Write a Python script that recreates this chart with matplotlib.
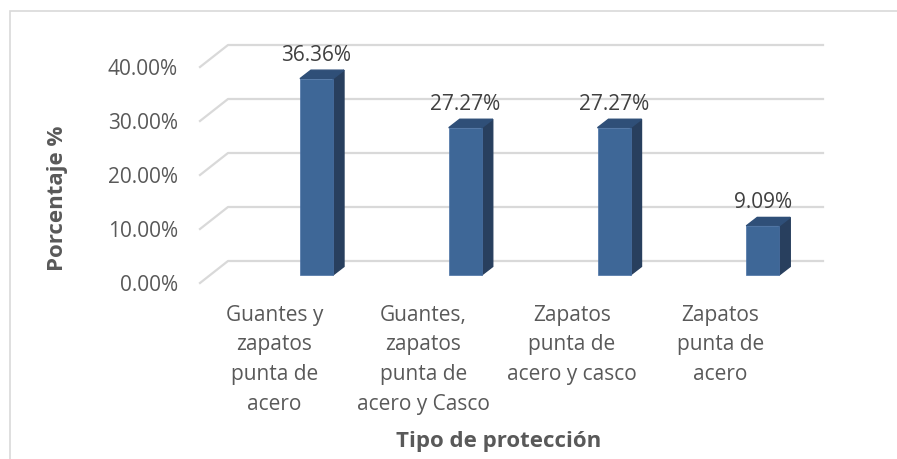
import matplotlib
matplotlib.use("Agg")
import matplotlib.pyplot as plt
from matplotlib.patches import Polygon, Rectangle

# data
categorias = ["Guantes y\nzapatos\npunta de\nacero",
              "Guantes,\nzapatos\npunta de\nacero y Casco",
              "Zapatos\npunta de\nacero y casco",
              "Zapatos\npunta de\nacero"]
porcentajes = [36.36, 27.27, 27.27, 9.09]
ticks_y = [0, 10, 20, 30, 40]
ticks_y_labels = ["0.00%", "10.00%", "20.00%", "30.00%", "40.00%"]

W, H = 897, 459
plt.rcParams['font.family'] = ['Open Sans', 'DejaVu Sans']
FS = 15

fig = plt.figure(figsize=(W / 100, H / 100), dpi=100)
fig.patch.set_facecolor("white")

# front plane of the 3d floor, in pixels
x0, x1 = 200, 795
y_base = 283
px_per_pct = 5.4
ax = fig.add_axes([x0 / W, 1 - y_base / H, (x1 - x0) / W, 40 * px_per_pct / H])
ax.set_xlim(0, 4)
ax.set_ylim(0, 40)
ax.patch.set_alpha(0)
for s in ax.spines.values():
    s.set_visible(False)

px_x = 4 / (x1 - x0)      # x data units per pixel
px_y = 1 / px_per_pct     # y data units per pixel

# depth of the back wall
DX, DY = 28 * px_x, 22 * px_y
grid_c = "#D9D9D9"
for t in ticks_y:
    ax.plot([0, DX, 4 + DX], [t, t + DY, t + DY], color=grid_c, lw=1.6,
            clip_on=False, zorder=1)

# bars (front face + side + top)
bar_off = 100 * px_x       # front face left edge from category start
bar_w = 33 * px_x
lift = 8 * px_y
ddx, ddy = 11 * px_x, 8.5 * px_y
front_c, side_c, top_c = "#3E6797", "#283F5E", "#2F4F78"

xs = [i + bar_off for i in range(len(porcentajes))]
ax.bar(xs, porcentajes, width=bar_w, bottom=lift, align="edge",
       color=front_c, edgecolor="#4A72A6", lw=0.5, zorder=3, clip_on=False)
for x, v in zip(xs, porcentajes):
    top = v + lift
    side = Polygon([(x + bar_w, lift), (x + bar_w + ddx, lift + ddy),
                    (x + bar_w + ddx, top + ddy), (x + bar_w, top)],
                   closed=True, color=side_c, zorder=2, clip_on=False)
    cap = Polygon([(x, top), (x + ddx, top + ddy), (x + bar_w + ddx, top + ddy),
                   (x + bar_w, top)], closed=True, color=top_c, zorder=2,
                  clip_on=False)
    ax.add_patch(side)
    ax.add_patch(cap)
    ax.text(x + bar_w / 2, top + ddy + 9 * px_y, f"{v:.2f}%", ha="center",
            va="baseline", fontsize=FS, color="#404040", zorder=4)

# axes ticks
ax.set_yticks(ticks_y)
ax.set_yticklabels(ticks_y_labels)
ax.set_xticks([i + 0.5 for i in range(len(categorias))])
ax.set_xticklabels(categorias)
ax.tick_params(axis="y", length=0, pad=16, labelsize=FS, labelcolor="#595959")
ax.tick_params(axis="x", length=0, pad=15.5, labelsize=FS, labelcolor="#595959")
for lbl in ax.get_xticklabels():
    lbl.set_linespacing(1.55)

fig.text(58 / W, 1 - 198 / H, "Porcentaje %", rotation=90, ha="center",
         va="center", fontsize=16, fontweight="bold", color="#595959")
fig.text(499 / W, 1 - 441 / H, "Tipo de protección", ha="center",
         va="center", fontsize=16, fontweight="bold", color="#595959")

# chart border
fig.add_artist(Rectangle((10 / W, -0.1), 1.2, 1 - 11 / H + 0.1,
                         transform=fig.transFigure, fill=False,
                         edgecolor="#D9D9D9", lw=1.2))

fig.savefig("out.png", dpi=100, facecolor="white")
